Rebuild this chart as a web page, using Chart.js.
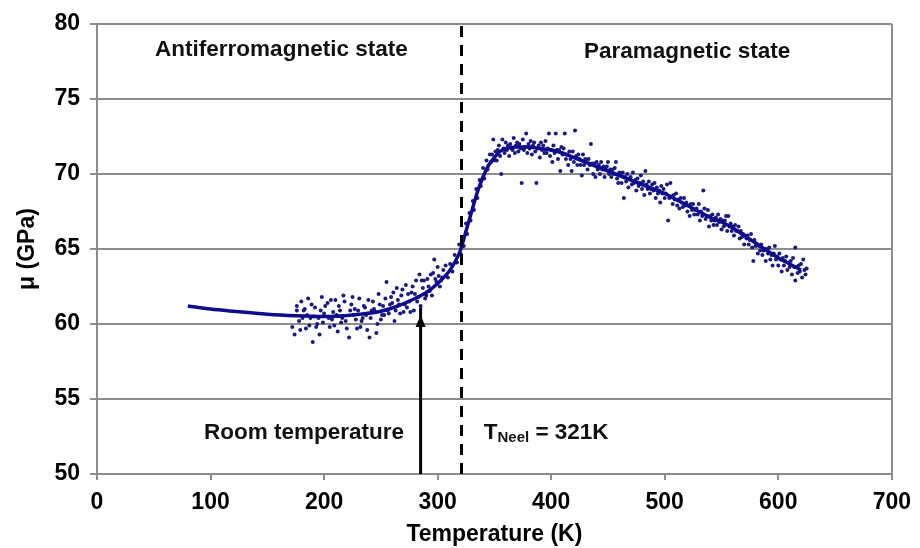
<!DOCTYPE html>
<html>
<head>
<meta charset="utf-8">
<script src="https://cdn.jsdelivr.net/npm/chart.js@4.4.0/dist/chart.umd.min.js"></script>
<style>
  html, body { margin: 0; padding: 0; background: #ffffff; }
  #wrap { width: 920px; height: 548px; position: relative; }
</style>
</head>
<body>
<div id="wrap"><canvas id="c" width="920" height="548"></canvas></div>
<script>
// ---- Data ----
const xTicks = [0, 100, 200, 300, 400, 500, 600, 700];
const yTicks = [50, 55, 60, 65, 70, 75, 80];

// Fitted curve (temperature K, shear modulus GPa)
const fitT  = [80, 100, 120, 150, 175, 200, 225, 250, 265, 280, 290, 300, 310, 315, 320, 325, 330, 335, 340, 345, 350, 355, 360, 370, 380, 390, 400, 410, 420, 430, 440, 450, 460, 470, 480, 490, 500, 510, 520, 530, 540, 550, 560, 570, 580, 590, 600, 610, 620];
const fitMu = [61.2, 61.0, 60.85, 60.65, 60.55, 60.5, 60.6, 60.85, 61.2, 61.7, 62.1, 62.7, 63.5, 64.1, 64.9, 66.2, 67.5, 68.8, 69.8, 70.6, 71.1, 71.5, 71.7, 71.8, 71.8, 71.7, 71.6, 71.4, 71.1, 70.8, 70.5, 70.2, 69.9, 69.6, 69.3, 69.0, 68.7, 68.3, 67.9, 67.5, 67.1, 66.8, 66.4, 65.9, 65.4, 64.9, 64.4, 64.0, 63.6];

// Measured points, antiferromagnetic side (below ~305 K)
const measLowT = [172,174,176,178,180,182,184,186,188,190,192,194,196,198,200,203,205,207,210,212,214,217,219,222,224,226,229,231,234,236,238,240,243,245,248,250,252,255,257,259,262,264,266,268,270,272,275,277,279,281,283,284,285,287,289,291,293,295,297,299,301,
  185,195,208,215,227,233,242,247,253,260,267,273,280,286,292,296,298,303,305,
  176,179,181,183,187,189,191,193,197,199,201,204,206,209,211,213,216,218,220,223,225,228,230,232,235,237,239,241,244,246,249,251,254,256,258,261,263,265,269,271,274,276,278,282,288,290,294,300,302,304];
const measLowMu = [59.8,59.3,61.2,60.2,61.5,60.9,59.7,61.7,60.4,58.8,61.1,60.0,59.3,61.8,60.7,61.4,59.8,60.3,61.6,59.5,60.9,61.9,60.2,59.1,61.3,60.6,59.7,61.7,60.4,61.1,59.6,59.1,61.5,60.8,62.0,60.3,61.2,62.8,60.7,61.8,60.2,62.4,61.3,61.9,60.8,62.6,61.5,62.1,60.9,62.9,61.8,63.3,61.2,62.4,61.7,63.0,62.2,61.9,64.3,62.8,63.2,
  60.6,60.4,60.8,60.1,61.0,60.2,60.9,60.0,60.6,61.4,60.7,61.1,62.0,62.9,62.5,63.4,63.0,62.9,63.6,
  60.9,59.6,60.4,61.0,59.9,61.3,60.5,59.8,60.9,60.1,61.2,60.4,61.6,59.9,60.6,61.2,60.4,61.5,59.7,60.9,61.8,60.3,60.9,59.8,61.2,60.6,61.6,60.4,61.0,59.4,61.3,60.6,61.7,60.9,61.3,62.1,60.9,61.6,62.3,61.3,62.0,60.8,62.5,61.5,62.9,61.9,63.3,63.8,62.5,63.1];

// Measured points, steep rise (305-347 K)
const measRiseT = [307,309,311,313,315,317,319,320,322,323,325,326,328,329,331,332,334,335,337,338,340,341,343,344,346,347];
const measRiseMu = [63.9,63.1,64.0,63.5,64.6,64.1,65.3,64.7,65.8,65.2,66.7,66.0,67.4,66.9,68.2,67.6,69.0,68.4,69.6,69.2,70.4,69.7,70.9,70.3,71.3,70.8];

// Measured points, peak region (348-469 K)
const measPeakT = [348,349,350,351,352,353,354,355,356,357,358,359,360,361,362,363,364,365,366,367,368,369,370,371,372,373,374,375,376,377,378,379,380,381,382,383,384,385,386,387,388,389,390,391,392,393,394,395,396,397,398,399,400,401,402,403,404,405,406,407,408,409,410,411,412,413,414,415,416,417,418,419,420,421,422,423,424,425,426,427,428,429,430,431,432,433,434,435,436,437,438,439,440,441,442,443,444,445,446,447,448,449,450,451,452,453,454,455,456,457,458,459,460,461,462,463,464,465,466,467,468,469];
const measPeakMu = [71.3,72.3,70.9,71.5,70.9,71.6,71.9,71.2,70.0,72.3,71.7,71.4,72.1,71.6,71.9,71.2,72.0,71.7,71.6,72.4,71.4,71.9,72.1,71.5,72.0,71.7,69.4,72.3,71.6,71.8,72.7,71.4,72.0,71.7,72.2,71.3,71.9,72.1,71.5,69.4,71.7,71.9,71.1,72.1,71.6,71.9,71.4,72.2,71.4,71.7,72.7,71.2,71.6,70.8,71.9,71.4,72.7,71.6,71.0,71.6,70.2,71.8,71.3,71.7,72.7,71.0,71.3,70.6,71.5,71.0,70.2,71.5,70.8,72.9,71.2,70.6,71.3,71.0,70.6,69.9,71.3,70.6,71.0,70.8,70.3,71.0,70.6,72.0,70.7,70.0,70.7,69.8,70.8,70.3,70.6,70.0,70.8,70.3,70.5,69.8,70.3,70.5,70.8,70.0,70.3,69.8,70.3,70.0,70.4,70.8,69.7,69.4,70.1,69.9,69.4,70.1,68.4,69.8,69.5,70.0,69.1,69.7];

// Measured points, paramagnetic decline (470-625 K)
const measHighT = [470,471,472,473,474,475,476,477,478,479,480,481,482,483,484,485,486,487,488,489,490,491,492,493,494,495,496,497,498,499,500,501,502,503,504,505,506,507,508,509,510,511,512,513,514,515,516,517,518,519,520,521,522,523,524,525,526,527,528,529,530,531,532,533,534,535,536,537,538,539,540,541,542,543,544,545,546,547,548,549,550,551,552,553,554,555,556,557,558,559,560,561,562,563,564,565,566,567,568,569,570,571,572,573,574,575,576,577,578,579,580,581,582,583,584,585,586,587,588,589,590,591,592,593,594,595,596,597,598,599,600,601,602,603,604,605,606,607,608,609,610,611,612,613,614,615,615,616,617,618,619,620,621,622,623,624,625];
const measHighMu = [69.8,69.3,70.1,69.4,69.6,68.9,69.7,69.2,69.4,69.9,69.0,69.5,68.6,70.2,69.3,69.0,69.5,68.7,69.0,69.3,68.9,69.4,68.4,69.1,68.7,68.9,68.1,69.2,68.7,69.0,68.4,68.7,69.3,66.9,68.4,69.4,68.5,68.0,68.6,68.3,68.7,67.9,68.3,67.7,68.4,68.1,67.8,68.4,67.9,68.1,67.5,67.9,67.2,68.0,67.6,68.0,67.3,67.6,67.7,67.3,68.0,66.9,67.5,67.2,68.9,67.7,67.0,67.2,67.6,66.5,67.2,66.9,67.3,66.6,66.9,67.1,66.6,67.3,66.8,67.0,66.3,66.9,66.5,66.9,67.2,66.2,67.2,66.5,66.7,66.2,66.5,65.9,66.6,66.2,66.2,66.5,65.7,66.2,65.8,66.0,65.3,65.9,65.7,65.9,65.3,65.6,66.0,65.1,64.2,65.6,65.2,65.3,64.7,65.2,64.9,65.3,64.6,64.9,65.0,64.2,65.0,64.7,65.1,64.3,64.6,63.9,64.7,65.2,64.3,64.5,63.9,64.7,64.3,63.5,64.4,63.9,64.2,64.5,63.6,64.1,63.8,64.2,63.3,64.4,63.8,62.9,65.1,63.8,63.4,63.9,63.5,64.0,63.1,64.3,63.6,63.3,63.7];

// Annotations
const neelT = 321;
const roomT = 285;
const arrowFromMu = 50;
const arrowToMu = 60.6;

// ---- Build ----
const measT = measLowT.concat(measRiseT, measPeakT, measHighT);
const measMu = measLowMu.concat(measRiseMu, measPeakMu, measHighMu);
const measPts = measT.map((t, i) => ({ x: t, y: measMu[i] }));
const fitPts = fitT.map((t, i) => ({ x: t, y: fitMu[i] }));

const FONT = "'Liberation Sans', Arial, Helvetica, sans-serif";
const GRID = '#8c8c8c';

const annotPlugin = {
  id: 'annot',
  afterDatasetsDraw(chart) {
    const { ctx, scales: { x, y } } = chart;
    ctx.save();
    // arrow head
    const ax = x.getPixelForValue(roomT);
    const ay = y.getPixelForValue(arrowToMu);
    ctx.fillStyle = '#000';
    ctx.beginPath();
    ctx.moveTo(ax, ay);
    ctx.lineTo(ax - 5, ay + 12);
    ctx.lineTo(ax + 5, ay + 12);
    ctx.closePath();
    ctx.fill();

    ctx.fillStyle = '#111';
    ctx.font = 'bold 22.5px ' + FONT;
    ctx.textBaseline = 'middle';
    ctx.textAlign = 'center';
    ctx.fillText('Antiferromagnetic state', x.getPixelForValue(162.4), y.getPixelForValue(78.27));
    ctx.fillText('Paramagnetic state', x.getPixelForValue(519.8), y.getPixelForValue(78.13));
    ctx.textAlign = 'right';
    ctx.fillText('Room temperature', x.getPixelForValue(270.4), y.getPixelForValue(52.73));
    // T_Neel = 321K
    ctx.textAlign = 'left';
    let tx = x.getPixelForValue(340.6);
    const ty = y.getPixelForValue(52.73);
    ctx.fillText('T', tx, ty);
    tx += ctx.measureText('T').width;
    ctx.font = 'bold 15px ' + FONT;
    ctx.fillText('Neel', tx, ty + 5);
    tx += ctx.measureText('Neel').width;
    ctx.font = 'bold 22.5px ' + FONT;
    ctx.fillText(' = ' + neelT + 'K', tx, ty);
    ctx.restore();
  }
};

new Chart(document.getElementById('c'), {
  type: 'scatter',
  data: {
    datasets: [
      {
        label: 'measured',
        data: measPts,
        showLine: false,
        pointRadius: 2,
        pointBorderWidth: 0,
        pointBackgroundColor: '#1a1a80',
        order: 3
      },
      {
        label: 'fit',
        data: fitPts,
        showLine: true,
        borderColor: '#0c0c8c',
        borderWidth: 3.5,
        pointRadius: 0,
        cubicInterpolationMode: 'monotone',
        order: 2
      },
      {
        label: 'neel',
        data: [{ x: neelT, y: 50 }, { x: neelT, y: 80 }],
        showLine: true,
        borderColor: '#000',
        borderWidth: 3,
        borderDash: [11, 8],
        pointRadius: 0,
        order: 1
      },
      {
        label: 'room',
        data: [{ x: roomT, y: arrowFromMu }, { x: roomT, y: arrowToMu + 0.5 }],
        showLine: true,
        borderColor: '#000',
        borderWidth: 3,
        pointRadius: 0,
        order: 1
      }
    ]
  },
  options: {
    responsive: false,
    animation: false,
    devicePixelRatio: 1,
    layout: { padding: { left: 0, right: 21, top: 24, bottom: 0 } },
    plugins: { legend: { display: false }, tooltip: { enabled: false } },
    scales: {
      x: {
        type: 'linear',
        min: 0, max: 700,
        afterBuildTicks: (s) => { s.ticks = xTicks.map(v => ({ value: v })); },
        afterFit: (s) => { s.height = 74; },
        ticks: { color: '#000', font: { family: FONT, size: 23, weight: 'bold' }, padding: 9, maxRotation: 0 },
        grid: {
          color: (c) => (c.tick && c.tick.value === 700) ? GRID : 'rgba(0,0,0,0)',
          lineWidth: 2,
          tickColor: GRID,
          tickLength: 6
        },
        border: { display: true, color: GRID, width: 2 },
        title: { display: true, text: 'Temperature (K)', color: '#000', font: { family: FONT, size: 23, weight: 'bold' }, padding: { top: 0, bottom: 0 } }
      },
      y: {
        type: 'linear',
        min: 50, max: 80,
        afterBuildTicks: (s) => { s.ticks = yTicks.map(v => ({ value: v })); },
        afterFit: (s) => { s.width = 97; },
        ticks: { color: '#000', font: { family: FONT, size: 23, weight: 'bold' }, padding: 10 },
        grid: { color: GRID, lineWidth: 2, tickColor: GRID, tickLength: 7 },
        border: { display: true, color: GRID, width: 2 },
        title: { display: true, text: 'μ (GPa)', color: '#000', font: { family: FONT, size: 23, weight: 'bold' }, padding: { top: 14, bottom: 0 } }
      }
    }
  },
  plugins: [annotPlugin]
});
</script>
</body>
</html>
